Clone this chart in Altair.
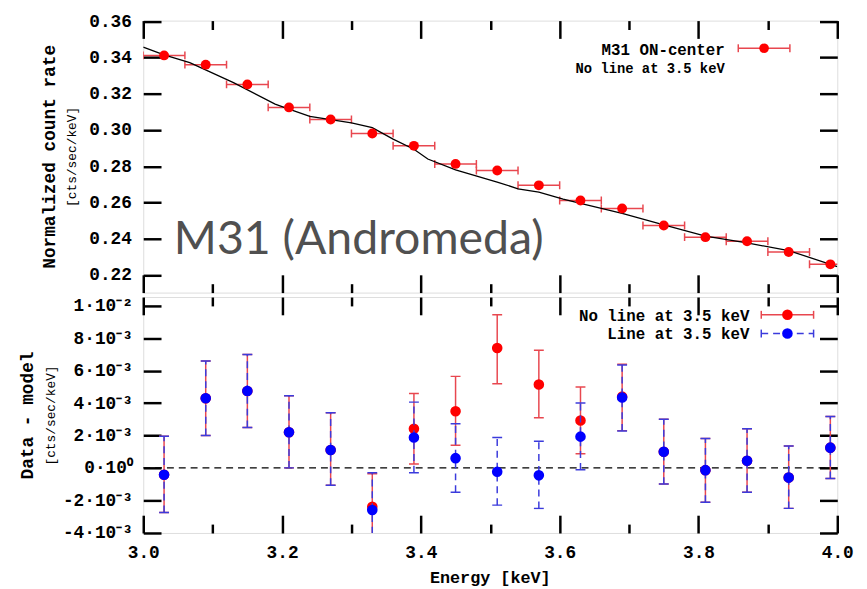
import altair as alt
import pandas as pd

# ---------------- data ----------------
energy = [3.03, 3.09, 3.15, 3.21, 3.27, 3.33, 3.39, 3.45, 3.51, 3.57,
          3.63, 3.69, 3.75, 3.81, 3.87, 3.93, 3.99]
bin_half_width = 0.03
count_rate = [0.3412, 0.3361, 0.3252, 0.3125, 0.3058, 0.2981, 0.2913, 0.2813,
              0.2777, 0.2695, 0.2611, 0.2567, 0.2473, 0.2409, 0.2386, 0.2327, 0.2259]

model_energy = [3.00, 3.03, 3.067, 3.13, 3.19, 3.21, 3.24, 3.30, 3.33, 3.36, 3.39,
                3.41, 3.45, 3.51, 3.54, 3.57, 3.605, 3.63, 3.69, 3.75, 3.81, 3.87,
                3.93, 4.00]
model_rate = [0.3458, 0.3415, 0.3372, 0.3262, 0.3143, 0.3116, 0.3076, 0.3040, 0.3013,
              0.2950, 0.2894, 0.2840, 0.2780, 0.2713, 0.2676, 0.2658, 0.2619, 0.2595,
              0.2540, 0.2477, 0.2414, 0.2377, 0.2335, 0.2246]

resid_unit = 1e-3
resid_noline = [-0.42, 4.3, 4.75, 2.2, 1.1, -2.4, 2.42, 3.5, 7.4, 5.15, 2.93, 4.4,
                1.0, -0.14, 0.44, -0.6, 1.25]
resid_noline_lo = [-2.75, 2.0, 2.5, 0.0, -1.07, -4.6, 0.24, 1.4, 5.2, 3.1, 0.87, 2.3,
                   -1.0, -2.12, -1.5, -2.5, -0.65]
resid_noline_hi = [1.95, 6.6, 7.0, 4.45, 3.4, -0.36, 4.6, 5.65, 9.45, 7.27, 4.99, 6.4,
                   3.0, 1.82, 2.42, 1.35, 3.17]
resid_line = [-0.42, 4.3, 4.75, 2.2, 1.1, -2.6, 1.88, 0.6, -0.24, -0.46, 1.93, 4.35,
              1.0, -0.14, 0.44, -0.6, 1.25]
resid_line_lo = [-2.75, 2.0, 2.5, 0.0, -1.07, -4.8, -0.3, -1.5, -2.3, -2.5, -0.12, 2.28,
                 -1.0, -2.12, -1.5, -2.5, -0.65]
resid_line_hi = [1.95, 6.6, 7.0, 4.45, 3.4, -0.3, 4.06, 2.72, 1.88, 1.65, 4.0, 6.36,
                 3.0, 1.82, 2.42, 1.35, 3.17]

x_major = [3.0, 3.2, 3.4, 3.6, 3.8, 4.0]
x_minor = [3.1, 3.3, 3.5, 3.7, 3.9]
top_y_ticks = [0.22, 0.24, 0.26, 0.28, 0.30, 0.32, 0.34, 0.36]
bot_y_ticks = [-0.004, -0.002, 0.0, 0.002, 0.004, 0.006, 0.008, 0.010]
bot_y_labels = ["-4·10⁻³", "-2·10⁻³", "0·10⁰", "2·10⁻³", "4·10⁻³", "6·10⁻³",
                "8·10⁻³", "1·10⁻²"]

# ---------------- tables ----------------
top_df = pd.DataFrame({
    "energy": energy,
    "lo": [e - bin_half_width for e in energy],
    "hi": [e + bin_half_width for e in energy],
    "rate": count_rate,
})
model_df = pd.DataFrame({"energy": model_energy, "rate": model_rate})
bot_df = pd.DataFrame({
    "energy": energy,
    "nl": [v * resid_unit for v in resid_noline],
    "nl_lo": [v * resid_unit for v in resid_noline_lo],
    "nl_hi": [v * resid_unit for v in resid_noline_hi],
    "l": [v * resid_unit for v in resid_line],
    "l_lo": [v * resid_unit for v in resid_line_lo],
    "l_hi": [v * resid_unit for v in resid_line_hi],
})
zero_df = pd.DataFrame({"zero": [0.0]})
one = pd.DataFrame({"k": [0]})

# ---------------- style ----------------
MONO = "Liberation Mono"
RED = "#ff0000"
RED_BAR = "#e8474f"
BLUE = "#0000ff"
BLUE_BAR = "#3b3bdc"
W = 703
H_TOP = 275.5
H_BOT = 239

xs = alt.Scale(domain=[3.0, 4.0], nice=False, zero=False)
ys_top = alt.Scale(domain=[0.2103, 0.3604], nice=False, zero=False)
ys_bot = alt.Scale(domain=[-0.00402, 0.01055], nice=False, zero=False)

bot_label_expr = ("[" + ",".join("'" + s + "'" for s in bot_y_labels) + "]"
                  "[round((datum.value - (%r)) / 0.002)]" % bot_y_ticks[0])


def tick_axis(orient, values, size, show_labels=False, **extra):
    kw = dict(orient=orient, values=values, tickSize=size, offset=-size,
              domain=False, grid=False, labels=show_labels, ticks=True,
              tickColor="black", tickWidth=2.5, title=None, labelFlush=False,
              minExtent=0)
    if show_labels:
        kw.update(labelFont=MONO, labelFontSize=18, labelFontWeight="bold",
                  labelColor="black")
    kw.update(extra)
    return alt.Axis(**kw)


def vtext(txt, x, y, size, bold=True, align="center", angle=0, font=MONO,
          color="black", baseline="middle"):
    return alt.Chart(one).mark_text(
        text=txt, font=font, fontSize=size,
        fontWeight="bold" if bold else "normal", align=align,
        baseline=baseline, angle=angle, color=color,
    ).encode(x=alt.value(x), y=alt.value(y))


def legend_sym(x1, x2, y, bar_color, pt_color, cap_color, dash=None, size=100):
    rule_kw = dict(color=bar_color, strokeWidth=1.5)
    if dash:
        rule_kw["strokeDash"] = dash
    return [
        alt.Chart(one).mark_rule(**rule_kw).encode(
            x=alt.value(x1), x2=alt.value(x2), y=alt.value(y)),
        alt.Chart(one).mark_rule(color=cap_color, strokeWidth=1.5).encode(
            x=alt.value(x1), y=alt.value(y - 4), y2=alt.value(y + 4)),
        alt.Chart(one).mark_rule(color=cap_color, strokeWidth=1.5).encode(
            x=alt.value(x2), y=alt.value(y - 4), y2=alt.value(y + 4)),
        alt.Chart(one).mark_point(filled=True, opacity=1, color=pt_color,
                                  size=size).encode(
            x=alt.value((x1 + x2) / 2), y=alt.value(y)),
    ]


VCAP = "M0,-1L0,1"
HCAP = "M-1,0L1,0"

# ---------------- top panel ----------------
top_bars = alt.Chart(top_df).mark_rule(color=RED_BAR, strokeWidth=1.5, clip=True).encode(
    x=alt.X("lo:Q", scale=xs, axis=tick_axis("bottom", x_major, 18)),
    x2="hi:Q",
    y=alt.Y("rate:Q", scale=ys_top,
            axis=tick_axis("left", top_y_ticks, 18, True, format=".2f", labelPadding=12)),
)
top_cap_lo = alt.Chart(top_df).mark_point(
    shape=VCAP, size=64, filled=False, opacity=1, color=RED_BAR, strokeWidth=1.5, clip=True
).encode(
    x=alt.X("lo:Q", scale=xs, axis=tick_axis("bottom", x_minor, 9)),
    y=alt.Y("rate:Q", scale=ys_top, axis=tick_axis("right", top_y_ticks, 18)),
)
top_cap_hi = alt.Chart(top_df).mark_point(
    shape=VCAP, size=64, filled=False, opacity=1, color=RED_BAR, strokeWidth=1.5, clip=True
).encode(
    x=alt.X("hi:Q", scale=xs, axis=tick_axis("top", x_major, 18)),
    y=alt.Y("rate:Q", scale=ys_top, axis=None),
)
top_model = alt.Chart(model_df).mark_line(color="black", strokeWidth=1.3, clip=True).encode(
    x=alt.X("energy:Q", scale=xs, axis=tick_axis("top", x_minor, 9)),
    y=alt.Y("rate:Q", scale=ys_top, axis=None),
)
top_pts = alt.Chart(top_df).mark_point(filled=True, opacity=1, color=RED, size=100).encode(
    x=alt.X("energy:Q", scale=xs, axis=None),
    y=alt.Y("rate:Q", scale=ys_top, axis=None),
)

top_layers = [top_bars, top_cap_lo, top_cap_hi, top_model, top_pts,
              vtext("Normalized count rate", -94, 138, 18, angle=270),
              vtext("[cts/sec/keV]", -72, 138, 13, bold=False, angle=270),
              vtext("M31 (Andromeda)", 31, 236.5, 47, bold=False, align="left",
                    font="Lato", color="#505050", baseline="alphabetic"),
              vtext("M31 ON-center", 589, 30, 16, align="right"),
              vtext("No line at 3.5 keV", 589, 49.5, 14, align="right")]
top_layers += legend_sym(602.7, 655, 28, RED_BAR, RED, RED_BAR, size=95)

top = alt.layer(*top_layers).resolve_axis(x="independent", y="independent").properties(
    width=W, height=H_TOP)

# ---------------- bottom panel ----------------
zero_line = alt.Chart(zero_df).mark_rule(color="black", strokeWidth=1.3, strokeDash=[7, 5]).encode(
    y=alt.Y("zero:Q", scale=ys_bot, axis=None))
red_bars = alt.Chart(bot_df).mark_rule(color=RED_BAR, strokeWidth=1.5, clip=True).encode(
    x=alt.X("energy:Q", scale=xs,
            axis=tick_axis("bottom", x_major, 18, True, format=".1f", labelPadding=11)),
    y=alt.Y("nl_lo:Q", scale=ys_bot,
            axis=tick_axis("left", bot_y_ticks, 18, True, labelExpr=bot_label_expr,
                           labelPadding=11)),
    y2="nl_hi:Q",
)
red_cap_lo = alt.Chart(bot_df).mark_point(
    shape=HCAP, size=100, filled=False, opacity=1, color=RED_BAR, strokeWidth=1.5, clip=True
).encode(
    x=alt.X("energy:Q", scale=xs, axis=tick_axis("bottom", x_minor, 9)),
    y=alt.Y("nl_lo:Q", scale=ys_bot, axis=tick_axis("right", bot_y_ticks, 18)),
)
red_cap_hi = alt.Chart(bot_df).mark_point(
    shape=HCAP, size=100, filled=False, opacity=1, color=RED_BAR, strokeWidth=1.5, clip=True
).encode(
    x=alt.X("energy:Q", scale=xs, axis=tick_axis("top", x_major, 18)),
    y=alt.Y("nl_hi:Q", scale=ys_bot, axis=None),
)
blue_bars = alt.Chart(bot_df).mark_rule(
    color=BLUE_BAR, strokeWidth=1.5, strokeDash=[7, 5], clip=True
).encode(
    x=alt.X("energy:Q", scale=xs, axis=tick_axis("top", x_minor, 9)),
    y=alt.Y("l_lo:Q", scale=ys_bot, axis=None),
    y2="l_hi:Q",
)
blue_cap_lo = alt.Chart(bot_df).mark_point(
    shape=HCAP, size=100, filled=False, opacity=1, color=BLUE_BAR, strokeWidth=1.5, clip=True
).encode(
    x=alt.X("energy:Q", scale=xs, axis=None),
    y=alt.Y("l_lo:Q", scale=ys_bot, axis=None),
)
blue_cap_hi = alt.Chart(bot_df).mark_point(
    shape=HCAP, size=100, filled=False, opacity=1, color=BLUE_BAR, strokeWidth=1.5, clip=True
).encode(
    x=alt.X("energy:Q", scale=xs, axis=None),
    y=alt.Y("l_hi:Q", scale=ys_bot, axis=None),
)
red_pts = alt.Chart(bot_df).mark_point(filled=True, opacity=1, color=RED, size=115, clip=True).encode(
    x=alt.X("energy:Q", scale=xs, axis=None),
    y=alt.Y("nl:Q", scale=ys_bot, axis=None),
)
blue_pts = alt.Chart(bot_df).mark_point(filled=True, opacity=1, color=BLUE, size=115, clip=True).encode(
    x=alt.X("energy:Q", scale=xs, axis=None),
    y=alt.Y("l:Q", scale=ys_bot, axis=None),
)

bot_layers = [zero_line, red_bars, red_cap_lo, red_cap_hi, red_pts,
              blue_bars, blue_cap_lo, blue_cap_hi, blue_pts,
              vtext("Data - model", -116.5, 120, 18, angle=270),
              vtext("[cts/sec/keV]", -93.5, 120, 13, bold=False, angle=270),
              vtext("Energy [keV]", W / 2, 285, 17),
              vtext("No line at 3.5 keV", 614, 19.7, 16, align="right"),
              vtext("Line at 3.5 keV", 614, 38, 16, align="right")]
bot_layers += legend_sym(626, 679, 18, RED_BAR, RED, RED_BAR, size=115)
bot_layers += legend_sym(626, 679, 37, BLUE_BAR, BLUE, BLUE_BAR, dash=[7, 5], size=115)

bottom = alt.layer(*bot_layers).resolve_axis(x="independent", y="independent").properties(
    width=W, height=H_BOT)

chart = alt.vconcat(top, bottom, spacing=0).resolve_scale(
    x="independent", y="independent"
).properties(
    padding={"left": 10, "top": 0, "right": 5, "bottom": 0}
).configure_view(
    stroke="black", strokeWidth=2.5
).configure(background="white")

chart.save("out.html", embed_options={"renderer": "svg", "actions": False})
